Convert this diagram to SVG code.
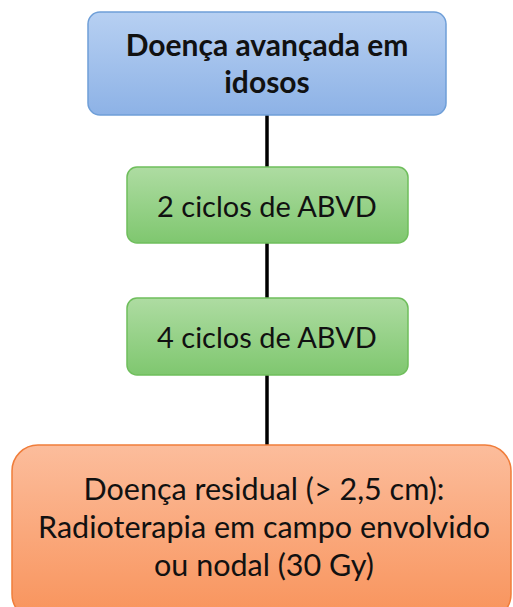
<svg xmlns="http://www.w3.org/2000/svg" width="513" height="607" viewBox="0 0 513 607">
<style>
.t{font-family:Lato,"Open Sans","Liberation Sans",sans-serif;fill:#111;text-anchor:middle}
.b{font-weight:bold}
.conn{stroke:#000;stroke-width:3.5;fill:none}
</style>
<defs>
<linearGradient id="gb" x1="0" y1="0" x2="0" y2="1"><stop offset="0" stop-color="#b7d0f2"/><stop offset="1" stop-color="#8db2e6"/></linearGradient>
<linearGradient id="gg" x1="0" y1="0" x2="0" y2="1"><stop offset="0" stop-color="#aedca2"/><stop offset="1" stop-color="#7fc76f"/></linearGradient>
<linearGradient id="go" x1="0" y1="0" x2="0" y2="1"><stop offset="0" stop-color="#fcbd9c"/><stop offset="1" stop-color="#f8935b"/></linearGradient>
</defs>
<g id="connectors">
<line class="conn" x1="267" y1="115" x2="267" y2="167"/>
<line class="conn" x1="267" y1="243" x2="267" y2="298"/>
<line class="conn" x1="267" y1="375" x2="267" y2="445"/>
</g>
<g id="n1">
<rect x="88" y="12" width="358" height="103" rx="12" fill="url(#gb)" stroke="#6f9fd8" stroke-width="1.5"/>
<text class="t b" x="267" y="56" font-size="30">Doença avançada em</text>
<text class="t b" x="267" y="93" font-size="30">idosos</text>
</g>
<g id="n2">
<rect x="127" y="167" width="281" height="76" rx="10" fill="url(#gg)" stroke="#6fbe5c" stroke-width="1.5"/>
<text class="t" x="267" y="217" font-size="29">2 ciclos de ABVD</text>
</g>
<g id="n3">
<rect x="127" y="298" width="281" height="77" rx="10" fill="url(#gg)" stroke="#6fbe5c" stroke-width="1.5"/>
<text class="t" x="267" y="348" font-size="29">4 ciclos de ABVD</text>
</g>
<g id="n4">
<rect x="12" y="445" width="499" height="175" rx="26" fill="url(#go)" stroke="#f07d3a" stroke-width="1.5"/>
<text class="t" x="264" y="500" font-size="30.5">Doença residual (&gt; 2,5 cm):</text>
<text class="t" x="264" y="538" font-size="30.5">Radioterapia em campo envolvido</text>
<text class="t" x="264" y="576" font-size="30.5">ou nodal (30 Gy)</text>
</g>
</svg>
